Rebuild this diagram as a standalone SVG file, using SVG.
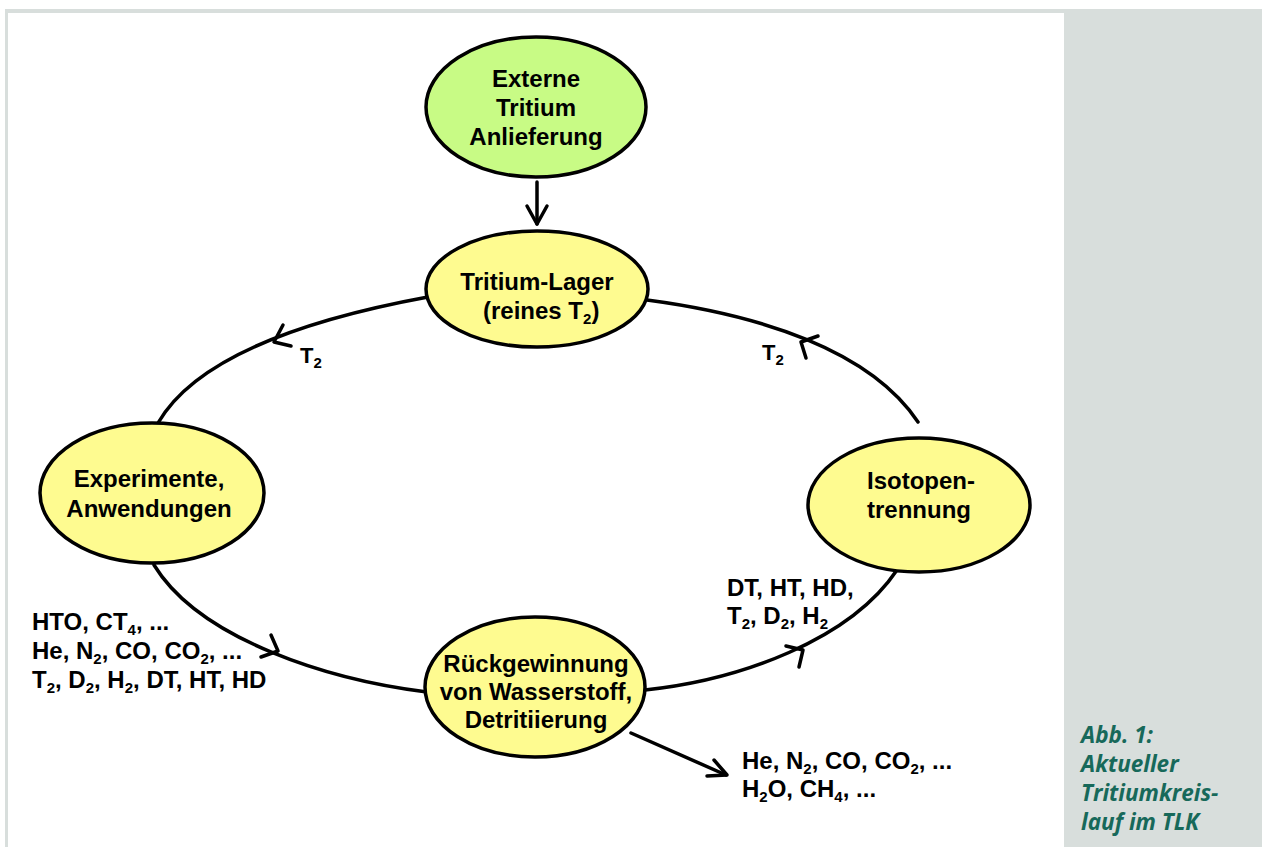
<svg xmlns="http://www.w3.org/2000/svg" width="1262" height="847" viewBox="0 0 1262 847">
<style>
.n{stroke:#000;stroke-width:3.5}
.g{fill:#c8fb85}
.y{fill:#fefb90}
.t{font-family:"Liberation Sans",Arial,sans-serif;font-weight:bold;font-size:24px;fill:#000}
.c{text-anchor:middle}
.s{font-size:15px}
.e{fill:none;stroke:#000;stroke-width:3.5;stroke-linecap:round;stroke-linejoin:round}
.cap{font-family:"Open Sans",sans-serif;font-weight:bold;font-style:italic;font-size:22.5px;fill:#17695a}
</style>
<rect width="1262" height="847" fill="#fff"/>
<rect x="5" y="9" width="1257" height="838" fill="#d8dedc"/>
<rect x="8" y="13" width="1056" height="834" fill="#fff"/>

<g id="connectors">
<path class="e" d="M537,182 L537,224"/>
<path class="e" d="M527,206 L537,224 L547,206"/>
<path class="e" d="M428,297 C330,315 200,350 158,423"/>
<path class="e" d="M283,325 L274,342 L291,346"/>
<path class="e" d="M818,336 L801,342 L806,358"/>
<path class="e" d="M647,300 C760,315 870,350 918,422"/>
<path class="e" d="M154,565 C200,640 330,680 427,692"/>
<path class="e" d="M271,635 L278,651 L261,657"/>
<path class="e" d="M645,690 C740,680 850,640 897,570"/>
<path class="e" d="M786,646 L803,650 L799,667"/>
<path class="e" d="M631,733 L726,775"/>
<path class="e" d="M707,776 L727,775 L714,760"/>
</g>

<g id="n-extern">
<ellipse class="n g" cx="536" cy="107" rx="110" ry="70"/>
<text class="t c" x="536" y="87">Externe</text>
<text class="t c" x="536" y="116">Tritium</text>
<text class="t c" x="536" y="145">Anlieferung</text>
</g>

<g id="n-lager">
<ellipse class="n y" cx="537" cy="289" rx="111" ry="58"/>
<text class="t c" x="537" y="290">Tritium-Lager</text>
<text class="t" x="483" y="319">(reines T<tspan class="s" dy="5">2</tspan><tspan dy="-5">)</tspan></text>
</g>

<g id="n-exp">
<ellipse class="n y" cx="152" cy="493" rx="112" ry="70"/>
<text class="t c" x="149" y="487">Experimente,</text>
<text class="t c" x="149" y="517">Anwendungen</text>
</g>

<g id="n-iso">
<ellipse class="n y" cx="919" cy="505" rx="111" ry="67"/>
<text class="t c" x="921" y="489">Isotopen-</text>
<text class="t c" x="919" y="518">trennung</text>
</g>

<g id="n-rueck">
<ellipse class="n y" cx="535" cy="687" rx="110" ry="70"/>
<text class="t c" x="536" y="672">Rückgewinnung</text>
<text class="t c" x="536" y="700">von Wasserstoff,</text>
<text class="t c" x="536" y="728">Detritiierung</text>
</g>

<g id="labels">
<text class="t" x="300" y="363" style="font-size:22px">T<tspan class="s" dy="5">2</tspan></text>
<text class="t" x="762" y="360" style="font-size:22px">T<tspan class="s" dy="5">2</tspan></text>
<text class="t" x="32" y="630">HTO, CT<tspan class="s" dy="5">4</tspan><tspan dy="-5">, ...</tspan></text>
<text class="t" x="32" y="659">He, N<tspan class="s" dy="5">2</tspan><tspan dy="-5">, CO, CO</tspan><tspan class="s" dy="5">2</tspan><tspan dy="-5">, ...</tspan></text>
<text class="t" x="32" y="688">T<tspan class="s" dy="5">2</tspan><tspan dy="-5">, D</tspan><tspan class="s" dy="5">2</tspan><tspan dy="-5">, H</tspan><tspan class="s" dy="5">2</tspan><tspan dy="-5">, DT, HT, HD</tspan></text>
<text class="t" x="727" y="596">DT, HT, HD,</text>
<text class="t" x="727" y="624">T<tspan class="s" dy="5">2</tspan><tspan dy="-5">, D</tspan><tspan class="s" dy="5">2</tspan><tspan dy="-5">, H</tspan><tspan class="s" dy="5">2</tspan></text>
<text class="t" x="742" y="769">He, N<tspan class="s" dy="5">2</tspan><tspan dy="-5">, CO, CO</tspan><tspan class="s" dy="5">2</tspan><tspan dy="-5">, ...</tspan></text>
<text class="t" x="742" y="797">H<tspan class="s" dy="5">2</tspan><tspan dy="-5">O, CH</tspan><tspan class="s" dy="5">4</tspan><tspan dy="-5">, ...</tspan></text>
</g>

<g id="caption">
<text class="cap" x="1081" y="743">Abb. 1:</text>
<text class="cap" x="1081" y="772">Aktueller</text>
<text class="cap" x="1081" y="801">Tritiumkreis-</text>
<text class="cap" x="1081" y="830">lauf im TLK</text>
</g>
</svg>
